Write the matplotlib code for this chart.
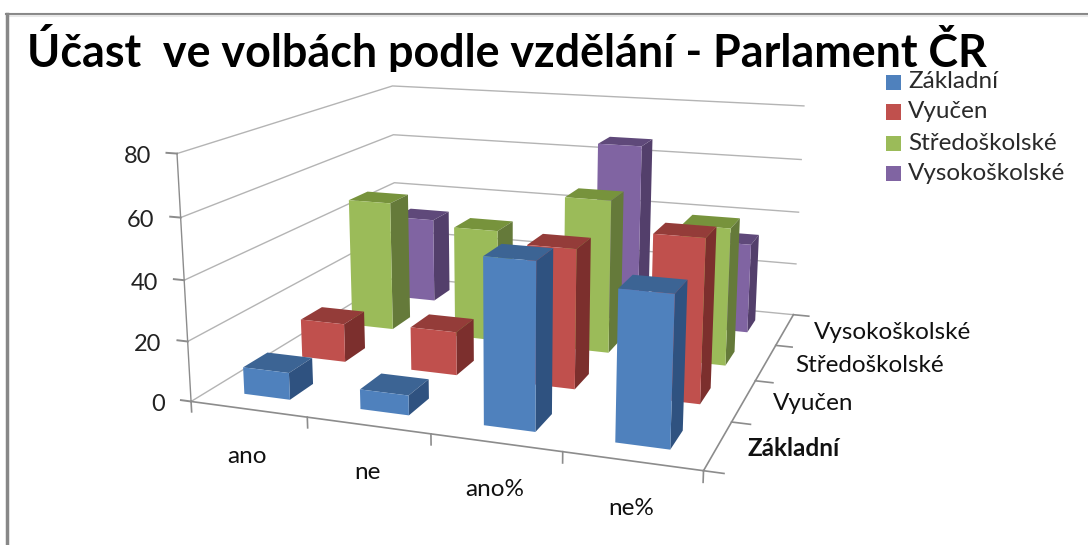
import numpy as np
import matplotlib
matplotlib.use("Agg")
import matplotlib.pyplot as plt
from matplotlib.lines import Line2D
from matplotlib.transforms import Bbox
from mpl_toolkits.mplot3d import Axes3D  # noqa

plt.rcParams['font.family'] = ['Lato', 'DejaVu Sans']

categories = ['ano', 'ne', 'ano%', 'ne%']
series_names = ['Základní', 'Vyučen', 'Středoškolské', 'Vysokoškolské']
zakladni = [9, 6.5, 53, 47]
vyucen = [13.5, 15, 47, 54]
stredo = [47.5, 40.5, 54.5, 48]
vysoko = [32.5, 6, 66.5, 33]
values = [zakladni, vyucen, stredo, vysoko]
z_ticks = [0, 20, 40, 60, 80]

# front, top, side colours of each series
front = ['#4f81bd', '#c0504d', '#9bbb59', '#8064a2']
top = ['#3c6494', '#943c39', '#77933c', '#5f497a']
side = ['#2f5280', '#7c2f2d', '#657a3a', '#533f6b']

W, H = 1088, 545

# box corners in the picture (x, y, z) -> pixel, camera is fitted from these
anchors = [
    (0, 0, 0, 191, 402), (0, 0, 20, 187.5, 342), (0, 0, 40, 184, 280),
    (0, 0, 60, 180.5, 217), (0, 0, 80, 178, 153),
    (4, 0, 0, 703, 471),
    (4, 4, 0, 794, 314), (4, 4, 20, 795, 264), (4, 4, 40, 798.5, 212),
    (4, 4, 60, 802, 160), (4, 4, 80, 804, 106),
    (0, 4, 0, 397, 276), (0, 4, 40, 394, 183), (0, 4, 60, 393, 135),
    (0, 4, 80, 392, 86),
]


def fit_camera(points):
    rows, rhs = [], []
    for x, y, z, u, v in points:
        rows.append([x, y, z, 1, 0, 0, 0, 0, -u * x, -u * y, -u * z])
        rhs.append(u)
        rows.append([0, 0, 0, 0, x, y, z, 1, -v * x, -v * y, -v * z])
        rhs.append(v)
    p = np.linalg.lstsq(np.array(rows, float), np.array(rhs, float), rcond=None)[0]
    return np.array([p[:4], p[4:8], [-0.003, 0.01, 0, -0.1], [p[8], p[9], p[10], 1.0]])


CAM = fit_camera(anchors)


def project(x, y, z):
    v = CAM @ np.array([x, y, z, 1.0])
    return v[0] / v[3], v[1] / v[3]


fig = plt.figure(figsize=(W / 100, H / 100), dpi=100, facecolor='white')
# square axes wider than the figure height, 3d axes insist on a square box
ax = fig.add_axes([0, (H - W) / 2 / H, 1, W / H], projection='3d')
ax.set_axis_off()
ax.patch.set_alpha(0)
ax.computed_zorder = False


def get_proj():
    inv = ax.transData.inverted()
    (x0, y0), (x1, y1) = inv.transform([[0, H], [W, 0]])
    T = np.array([[(x1 - x0) / W, 0, 0, x0],
                  [0, (y1 - y0) / H, 0, y0],
                  [0, 0, 1, 0],
                  [0, 0, 0, 1]])
    return T @ CAM


ax.get_proj = get_proj

grid_c = '#b4b4b4'
tick_c = '#8c8c8c'
for z in z_ticks:
    ax.plot([0, 0, 4], [0, 4, 4], [z, z, z], color=grid_c, lw=1, zorder=1)
    ax.plot([-0.09, 0], [0, 0], [z, z], color=tick_c, lw=1.4, zorder=2)
ax.plot([0, 0], [0, 0], [0, 80], color=tick_c, lw=1, zorder=2)
ax.plot([0, 4], [0, 0], [0, 0], color=tick_c, lw=1.2, zorder=2)
ax.plot([4, 4], [0, 4], [0, 0], color=tick_c, lw=1.2, zorder=2)
for i in range(5):
    ax.plot([i, i], [0, 0], [0, -3.5], color=tick_c, lw=1.2, zorder=2)
    ax.plot([4, 4.14], [i, i], [0, 0], color=tick_c, lw=1.2, zorder=2)

# back row first, left to right, so nearer bars paint over
order = 10
for j in range(3, -1, -1):
    for i in range(4):
        cols = ['none', top[j], front[j], 'none', 'none', side[j]]
        ax.bar3d(i + 0.3, j + 0.3, 0, 0.4, 0.4, values[j][i], color=cols,
                 shade=False, linewidth=0, zorder=order)
        order += 1


def put_text(px, py, s, **kw):
    return fig.text(px / W, 1 - py / H, s, **kw)


for z in z_ticks:
    px, py = project(0, 0, z)
    put_text(px - 26, py + 3, str(z), ha='right', va='center', fontsize=17, color='#222222')

for i, name in enumerate(categories):
    px, py = project(i + 0.5, 0, 0)
    put_text(px - 1, py + 47, name, ha='center', va='center', fontsize=17.5, color='#111111')

for j, name in enumerate(series_names):
    px, py = project(4, j + 0.5, 0)
    put_text(px + 29, py + 3, name, ha='left', va='center', fontsize=17.5,
             fontweight='bold' if j == 0 else 'normal', color='#111111')

title = put_text(27, 67, 'Účast  ve volbách podle vzdělání - Parlament ČR',
                 ha='left', va='baseline', fontsize=32.3, fontweight='bold', color='black')
title.set_clip_box(Bbox([[0, H - 72], [W, H]]))
title.set_clip_on(True)

leg_y = [82, 112, 143, 174]
for j, name in enumerate(series_names):
    fig.patches.append(plt.Rectangle((886 / W, 1 - (leg_y[j] + 7.5) / H), 15 / W, 15 / H,
                                     transform=fig.transFigure, facecolor=front[j],
                                     edgecolor='none', figure=fig))
    put_text(908, leg_y[j], name, ha='left', va='center', fontsize=17.5, color='#2a2a2a')

# frame of the pasted screenshot
for xs, ys, c, lw in [((6, W), (14, 14), '#888888', 1.5), ((8, W), (16, 16), '#e8e8e8', 1.5),
                      ((6.5, 6.5), (14, H), '#888888', 2.5)]:
    fig.add_artist(Line2D(np.array(xs) / W, 1 - np.array(ys) / H, color=c, lw=lw))

fig.savefig('out.png', dpi=100)
